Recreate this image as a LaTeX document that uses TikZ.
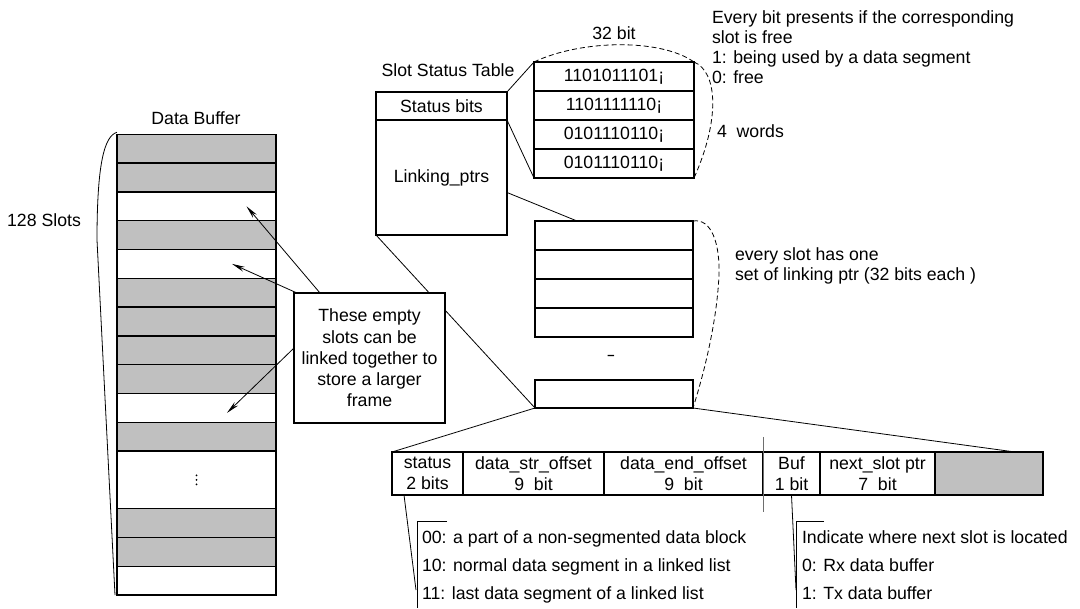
\documentclass[tikz,border=0pt]{standalone}
\usepackage{fontspec}
\setmainfont{Liberation Sans}
\usetikzlibrary{arrows.meta,calc}
\definecolor{slotgray}{RGB}{192,192,192}
\definecolor{guide}{RGB}{110,110,110}
\newcommand\lbl{\fontsize{17.7}{20}\selectfont}
\begin{document}
\begin{tikzpicture}[x=1pt,y=-1pt,
  every node/.style={font=\lbl, inner sep=0pt, outer sep=0pt},
  cell/.style={draw, line width=1.3pt, anchor=north west, align=center},
  link/.style={line width=0.8pt},
  dashlink/.style={line width=0.8pt, dash pattern=on 5pt off 3pt},
  arr/.style={line width=0.8pt, -{Stealth[length=13pt,width=5pt]}},
  twoline/.style={font=\fontsize{17.7}{21}\selectfont},
  legend/.style={anchor=north west, align=left, font=\fontsize{17.7}{28}\selectfont},
]
\useasboundingbox (0,0) rectangle (1080,609);

% ---------------- Data buffer ----------------
\node (dbtitle) at (196,118) {Data Buffer};
\foreach \k/\f in {1/slotgray,2/slotgray,3/white,4/slotgray,5/white,6/slotgray,
                   7/slotgray,8/slotgray,9/slotgray,10/white,11/slotgray}
  \node[cell, fill=\f, minimum width=159pt, minimum height=28.8pt] (buf\k)
       at (117,{134.3+28.8*(\k-1)}) {};
\node[cell, fill=white, minimum width=159pt, minimum height=57.6pt] (buf12) at (117,451.1) {};
% vertical ellipsis in the collapsed slot range
\foreach \dy in {-4.5,0,4.5}
  \fill ([yshift=\dy pt]buf12.center) circle (1pt);
\foreach \k/\f/\t in {13/slotgray/508.7,14/slotgray/537.5,15/white/566.3}
  \node[cell, fill=\f, minimum width=159pt, minimum height=28.8pt] (buf\k) at (117,\t) {};

% bracket spanning all slots
\draw[link] ([yshift=2pt]buf1.north west) .. controls (104,136) and (97,165) .. (97,240)
  -- ([xshift=-2pt]buf15.south west);
\node (nslots) at (44,220) {128 Slots};

% ---------------- Slot status table ----------------
\node (sttitle) at (448,70) {Slot Status Table};
\node[cell, minimum width=131pt, minimum height=28pt] (stbits) at (376,92) {Status bits};
\node[cell, minimum width=131pt, minimum height=115pt] (lptrs) at (376,120) {Linking\_ptrs};

% status bit words
\foreach \k/\w in {1/1101011101¡,2/1101111110¡,3/0101110110¡,4/0101110110¡}
  \node[cell, minimum width=160pt, minimum height=29pt] (w\k) at (534,{62+29*(\k-1)}) {\w};
\draw[link] (stbits.north east) -- (w1.north west);
\draw[link] (stbits.south east) -- (w4.south west);
\draw[dashlink] (w1.north west) .. controls (580,40) and (660,38) .. (w1.north east);
\draw[dashlink] (w1.north east) .. controls (718,72) and (720,120) .. (w4.south east);
\node (width32) at (614,33) {32 bit};
\node[anchor=west] (nwords) at (717,131) {4\ \ words};
\node[anchor=west, align=left] (bitnote) at (712,47)
  {Every bit presents if the corresponding\\slot is free\\1: being used by a data segment\\0: free};

% ---------------- Linking pointer table ----------------
\foreach \k in {1,...,4}
  \node[cell, minimum width=158pt, minimum height=29pt] (l\k) at (535,{221+29*(\k-1)}) {};
\node (gap) at (611,357) {\fontsize{13}{13}\selectfont\bfseries –};
\node[cell, minimum width=158pt, minimum height=28pt] (lz) at (535,380) {};
\draw[link] ([yshift=-15pt]lptrs.east) -- ([xshift=42pt]l1.north west);
\draw[dashlink] (l1.north east) .. controls (712,218) and (720,245) .. (719,275)
  .. controls (717,320) and (705,370) .. (lz.south east);
\node[anchor=west, align=left] (setnote) at (735,266)
  {every slot has one\\set of linking ptr (32 bits each )};

% ---------------- Linking pointer fields ----------------
\node[cell, twoline, minimum width=71pt, minimum height=43pt] (f1) at (392,452) {status\\2 bits};
\node[cell, twoline, minimum width=141pt, minimum height=43pt] (f2) at (463,452) {data\_str\_offset\\9\ \ bit};
\node[cell, twoline, minimum width=159pt, minimum height=43pt] (f3) at (604,452) {data\_end\_offset\\9\ \ bit};
\node[cell, twoline, minimum width=57pt, minimum height=43pt] (f4) at (763,452) {Buf\\1 bit};
\node[cell, twoline, minimum width=115pt, minimum height=43pt] (f5) at (820,452) {next\_slot ptr\\7\ \ bit};
\node[cell, fill=slotgray, minimum width=108pt, minimum height=43pt] (f6) at (935,452) {};
\draw[guide, line width=0.9pt] ([yshift=15pt]f4.north west) -- ([yshift=-17pt]f4.south west);

\draw[link] (lz.south west) -- (f1.north west);
\draw[link] (lz.south east) -- ([xshift=-28pt]f6.north east);

% long link from the linking pointers down to the last entry (passes behind the note)
\draw[link] (lptrs.south west) -- (lz.south west);

% ---------------- Note with arrows ----------------
\node[cell, fill=white, font=\fontsize{17.7}{21.2}\selectfont, minimum width=151pt, minimum height=130pt]
  (note) at (294,293) {These empty\\slots can be\\linked together to\\store a larger\\frame};
\coordinate (e1) at ([xshift=50pt]buf3.center);
\coordinate (e2) at ([xshift=35.5pt]buf5.center);
\coordinate (e3) at ([xshift=30.5pt,yshift=-5pt]buf10.center);
\draw[arr] ([xshift=26pt]note.north west) -- (e1);
\draw[arr] ([xshift=3pt]note.north west) -- (e2);
\draw[arr] ([yshift=10pt]note.west) -- (e3);

% ---------------- Field legends ----------------
\coordinate (sb) at (416,590);
\draw[link] ([xshift=12pt]f1.south west) -- (sb);
\draw[link] (447,521) -- (417,521) -- (417,608);
\node[legend] (statlegend) at (422,531)
  {00: a part of a non-segmented data block\\10: normal data segment in a linked list\\11: last data segment of a linked list};

\coordinate (bb) at (796,590);
\draw[link] (f4.south) -- (bb);
\draw[link] (824,521) -- (796,521) -- (796,608);
\node[legend] (buflegend) at (802,531)
  {Indicate where next slot is located\\0: Rx data buffer\\1: Tx data buffer};
\end{tikzpicture}
\end{document}
